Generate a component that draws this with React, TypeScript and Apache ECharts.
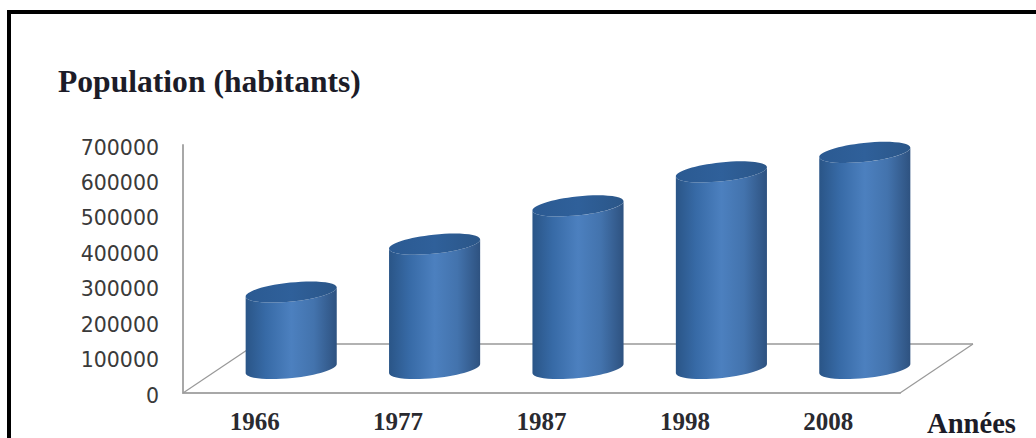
import React, { useEffect, useRef } from "react";
import * as echarts from "echarts";

const years = ["1966", "1977", "1987", "1998", "2008"];
const population = [216000, 351000, 459000, 555000, 610000];
const yTicks = { min: 0, max: 700000, interval: 100000 };

const cylinderRx = 45.8;
const cylinderRy = 9.5;
const tiltDeg = -6;
const depthX = 73;
const depthY = 49;
const KAPPA = 0.5523;

const bodyGradient = {
  type: "linear", x: 0, y: 0, x2: 1, y2: 0,
  colorStops: [
    { offset: 0, color: "#2a5587" },
    { offset: 0.22, color: "#376aa6" },
    { offset: 0.5, color: "#4c80bf" },
    { offset: 0.75, color: "#4373ad" },
    { offset: 1, color: "#2e5280" },
  ],
};

const capGradient = {
  type: "linear", x: 0, y: 0, x2: 1, y2: 0,
  colorStops: [
    { offset: 0, color: "#2b5a92" },
    { offset: 0.5, color: "#2f609a" },
    { offset: 1, color: "#2b5688" },
  ],
};

// Half of a tilted ellipse as two cubic segments, from the major axis end at
// side `from` (-1 left, 1 right) through the minor axis end at side `via`
// (-1 upper, 1 lower) to the opposite major axis end.
function halfEllipse(cx: number, cy: number, from: number, via: number) {
  const t = (tiltDeg * Math.PI) / 180;
  const ux = cylinderRx * Math.cos(t);
  const uy = cylinderRx * Math.sin(t);
  const vx = -cylinderRy * Math.sin(t);
  const vy = cylinderRy * Math.cos(t);
  const p = (a: number, b: number) => `${cx + a * ux + b * vx} ${cy + a * uy + b * vy}`;
  return (
    `C ${p(from, via * KAPPA)} ${p(from * KAPPA, via)} ${p(0, via)} ` +
    `C ${p(-from * KAPPA, via)} ${p(-from, via * KAPPA)} ${p(-from, 0)} `
  );
}

function renderCylinder(_params: any, api: any) {
  const base = api.coord([api.value(0), 0]);
  const top = api.coord([api.value(0), api.value(1)]);
  const cx = base[0] + depthX / 2;
  const by = base[1] - depthY / 2;
  const ty = top[1] - depthY / 2;
  const t = (tiltDeg * Math.PI) / 180;
  const dx = cylinderRx * Math.cos(t);
  const dy = cylinderRx * Math.sin(t);
  const bodyPath =
    `M ${cx - dx} ${ty - dy} L ${cx - dx} ${by - dy} ` +
    halfEllipse(cx, by, -1, 1) +
    `L ${cx + dx} ${ty + dy} ` +
    halfEllipse(cx, ty, 1, 1) +
    "Z";
  const capPath = `M ${cx - dx} ${ty - dy} ` + halfEllipse(cx, ty, -1, -1) + halfEllipse(cx, ty, 1, 1) + "Z";
  return {
    type: "group",
    children: [
      { type: "path", shape: { pathData: bodyPath }, style: { fill: bodyGradient } },
      { type: "path", shape: { pathData: capPath }, style: { fill: capGradient } },
    ],
  };
}

function renderFloor(params: any) {
  const { x, y, width, height } = params.coordSys;
  const y0 = y + height;
  const backY = y0 - depthY;
  return {
    type: "group",
    children: [
      { type: "polyline", shape: { points: [[x, y0], [x + depthX, backY]] }, style: { fill: "none", stroke: "#999999", lineWidth: 1.2 } },
      { type: "polyline", shape: { points: [[x + depthX, backY], [x + width + depthX, backY]] }, style: { fill: "none", stroke: "#666666", lineWidth: 1.2 } },
      { type: "polyline", shape: { points: [[x + width + depthX, backY], [x + width, y0]] }, style: { fill: "none", stroke: "#999999", lineWidth: 1.2 } },
    ],
  };
}

export default function App() {
  const ref = useRef<HTMLDivElement>(null);
  useEffect(() => {
    const chart = echarts.init(ref.current!, null, { renderer: "svg" });
    chart.setOption({
      animation: false,
      backgroundColor: "#ffffff",
      grid: { left: 183, top: 145, width: 717, height: 248 },
      title: {
        text: "Population (habitants)", left: 53, top: 60,
        textStyle: { fontFamily: "Liberation Serif", fontWeight: "bold", fontSize: 31.6, color: "#1c1c28" },
      },
      graphic: [
        { type: "rect", shape: { x: 9, y: 12, width: 1040, height: 440 }, style: { fill: "none", stroke: "#000000", lineWidth: 4 } },
        { type: "text", x: 927, y: 409, style: { text: "Années", fontFamily: "Liberation Serif", fontWeight: "bold", fontSize: 28.6, fill: "#1c1c28" } },
      ],
      xAxis: {
        type: "category", data: years,
        axisLine: { lineStyle: { color: "#a8a8a8", width: 2 } },
        axisTick: { show: false },
        axisLabel: { margin: 16, fontFamily: "Liberation Serif", fontWeight: "bold", fontSize: 25, color: "#2a2a30" },
      },
      yAxis: {
        type: "value", ...yTicks,
        splitLine: { show: false },
        axisTick: { show: false },
        axisLine: { show: true, lineStyle: { color: "#a8a8a8", width: 2 } },
        axisLabel: { margin: 24, verticalAlign: "top", lineHeight: 5, fontFamily: "DejaVu Sans", fontSize: 20.5, color: "#3a3a3a", formatter: (v: number) => String(v) },
      },
      series: [
        { type: "custom", coordinateSystem: "cartesian2d", renderItem: renderFloor, data: [0], silent: true, z: 1 },
        { type: "custom", coordinateSystem: "cartesian2d", renderItem: renderCylinder, encode: { x: 0, y: 1 }, data: population.map((v, i) => [i, v]), z: 2 },
      ],
    });
    return () => chart.dispose();
  }, []);
  return <div ref={ref} style={{ position: "fixed", left: 0, top: 0, width: 1036, height: 438 }} />;
}
